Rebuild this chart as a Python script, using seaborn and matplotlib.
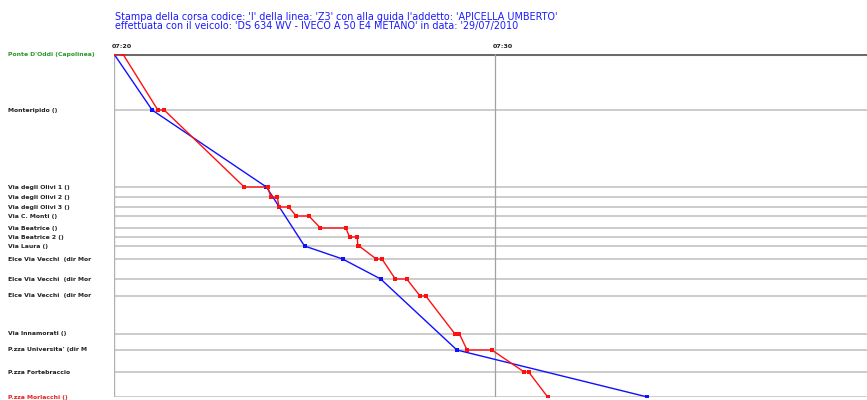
import matplotlib
matplotlib.use("Agg")
import matplotlib.pyplot as plt
import seaborn as sns
import pandas as pd
import numpy as np

# ---------------- data ----------------
stops = ["Ponte D'Oddi (Capolinea)", "Monteripido ()", "Via degli Olivi 1 ()",
         "Via degli Olivi 2 ()", "Via degli Olivi 3 ()", "Via C. Monti ()",
         "Via Beatrice ()", "Via Beatrice 2 ()", "Via Laura ()",
         "Elce Via Vecchi  (dir Mor", "Elce Via Vecchi  (dir Mor", "Elce Via Vecchi  (dir Mor",
         "Via Innamorati ()", "P.zza Universita' (dir M", "P.zza Fortebraccio",
         "P.zza Morlacchi ()"]
# progressive distance along the route (km)
stop_km = [0.00, 0.56, 1.33, 1.43, 1.53, 1.62, 1.74, 1.83, 1.92,
           2.05, 2.25, 2.42, 2.80, 2.96, 3.18, 3.43]

# planned timetable (blue)
planned_stop_idx = [0, 1, 2, 8, 9, 10, 13, 15]
planned_time = ["07:20:00", "07:21:00", "07:24:00", "07:25:00",
                "07:26:00", "07:27:00", "07:29:00", "07:34:00"]

# actual run (red): arrival / departure per stop
actual_arr = ["07:20:00", "07:21:09", "07:23:25", "07:24:07", "07:24:20", "07:24:47",
              "07:25:25", "07:26:11", "07:26:24", "07:26:53", "07:27:23", "07:28:02",
              "07:28:57", "07:29:16", "07:30:46", "07:31:23"]
actual_dep = ["07:20:14", "07:21:19", "07:24:02", "07:24:17", "07:24:35", "07:25:07",
              "07:26:05", "07:26:23", "07:26:26", "07:27:02", "07:27:41", "07:28:11",
              "07:29:04", "07:29:55", "07:30:53", None]

x_ticks = ["07:20", "07:30"]
title_lines = ["Stampa della corsa codice: 'I' della linea: 'Z3' con alla guida l'addetto: 'APICELLA UMBERTO'",
               "effettuata con il veicolo: 'DS 634 WV - IVECO A 50 E4 METANO' in data: '29/07/2010"]


def to_min(s):
    h, m, sec = (int(v) for v in s.split(":"))
    return (h * 60 + m + sec / 60.0) - (7 * 60 + 20)


# build tables
plan_df = pd.DataFrame({
    "t": [to_min(s) for s in planned_time],
    "km": [stop_km[i] for i in planned_stop_idx],
})
act_t, act_km = [], []
for i in range(len(stops)):
    act_t.append(to_min(actual_arr[i])); act_km.append(stop_km[i])
    if actual_dep[i] is not None:
        act_t.append(to_min(actual_dep[i])); act_km.append(stop_km[i])
act_df = pd.DataFrame({"t": act_t, "km": act_km})

# ---------------- figure ----------------
sns.set_theme(style="white")
plt.rcParams["font.family"] = ["DejaVu Sans"]

fig = plt.figure(figsize=(8.67, 4.0), dpi=100)
ax = fig.add_axes([114 / 867, 1 - 397 / 400, 1 - 114 / 867, (397 - 54) / 400])

px_per_min = 38.1
ax.set_xlim(0, (867 - 114) / px_per_min)
ax.set_ylim(stop_km[-1], 0)

# grid lines per stop
for i, km in enumerate(stop_km):
    if i == 0:
        ax.axhline(km, color="#6a6a6a", lw=2.2, zorder=1)
    else:
        ax.axhline(km, color="#c8c8c8", lw=1.3, zorder=1)
ax.axvline(0, color="#b0b0b0", lw=1.0, zorder=1)
ax.axvline(10, color="#a0a0a0", lw=0.9, zorder=1)

sns.lineplot(data=plan_df, x="t", y="km", ax=ax, sort=False, estimator=None,
             color="#1010ff", lw=1.0, marker="s", markersize=2.3,
             markeredgewidth=0, zorder=3)
sns.lineplot(data=act_df, x="t", y="km", ax=ax, sort=False, estimator=None,
             color="#ff1010", lw=1.0, marker="s", markersize=2.3,
             markeredgewidth=0, zorder=4)

for s in ax.spines.values():
    s.set_visible(False)
ax.set_xticks([])
ax.set_yticks([])
ax.set_xlabel("")
ax.set_ylabel("")

# time labels above
for lab in x_ticks:
    ax.text(to_min(lab + ":00") - 0.05, -0.05, lab, ha="left", va="bottom",
            fontsize=4.6, fontweight="bold", color="#202020",
            transform=ax.transData, clip_on=False)

# stop labels on the left
for i, (name, km) in enumerate(zip(stops, stop_km)):
    col = "#222222"
    if i == 0:
        col = "#2a9a2a"
    elif i == len(stops) - 1:
        col = "#e82020"
    y_fig = ax.transData.transform((0, km))[1]
    fig.text(8 / 867, y_fig / 400, name, ha="left", va="center",
             fontsize=4.4, fontweight="bold", color=col)

fig.text(115 / 867, 1 - 16.5 / 400, title_lines[0], ha="left", va="center",
         fontsize=6.95, color="#1a1aff")
fig.text(115 / 867, 1 - 26 / 400, title_lines[1], ha="left", va="center",
         fontsize=6.95, color="#1a1aff")

fig.savefig("out.png", dpi=100, facecolor="white")
